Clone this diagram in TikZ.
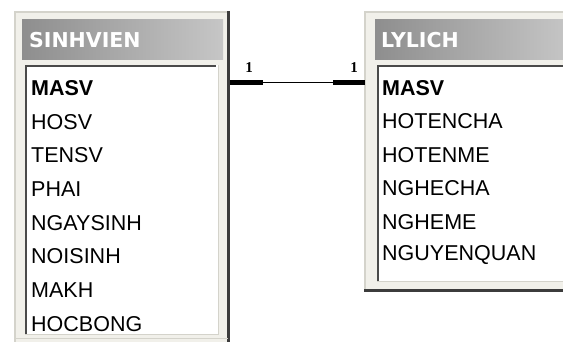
\documentclass[tikz,border=0pt]{standalone}
\usepackage{fontspec}
\setmainfont{Liberation Sans}
\newfontfamily\titlefont{DejaVu Sans}
\newfontfamily\onefont{Liberation Serif}
\definecolor{framebg}{HTML}{F1F0EA}
\definecolor{frameedge}{HTML}{D4D3CB}
\definecolor{shadowc}{HTML}{3C3C3C}
\definecolor{innerdark}{HTML}{4A4A4A}
\definecolor{tleft}{HTML}{8E8E8E}
\definecolor{tright}{HTML}{C6C6C6}
\tikzset{
  titlebar/.style={left color=tleft, right color=tright, draw=none},
  titletext/.style={anchor=west, inner sep=0pt, text=white, font=\titlefont\bfseries\fontsize{20.5}{21}\selectfont},
  listbox/.style={fill=white, draw=none},
  rowtext/.style={anchor=west, inner sep=0pt, font=\fontsize{21.5}{22}\selectfont},
  keytext/.style={rowtext, font=\bfseries\fontsize{21.5}{22}\selectfont},
  onelabel/.style={inner sep=0pt, font=\onefont\bfseries\fontsize{15}{15}\selectfont},
  thickbar/.style={line width=5pt, black},
  thinline/.style={line width=1pt, black}
}
\begin{document}
\begin{tikzpicture}[x=1pt,y=-1pt]
\useasboundingbox (0,0) rectangle (563,342);
% ---------- SINHVIEN ----------
\fill[framebg] (15,12) rectangle (228,345);
\draw[frameedge, line width=1.2pt] (15,345) -- (15,12) -- (228,12);
\draw[shadowc, line width=3pt] (228.5,11) -- (228.5,345);
\shade[titlebar] (22,20) rectangle (223,60);
\node[titletext] (t1) at (29,40) {SINHVIEN};
\fill[listbox] (25,65) rectangle (218,334);
\draw[innerdark, line width=2pt] (26,334) -- (26,66) -- (216,66);
\draw[frameedge, line width=1pt] (218,65) -- (218,334) -- (25,334);
\draw[frameedge, line width=1pt] (15,338) -- (228,338);
\node[keytext] (s1) at (31,88) {MASV};
\node[rowtext] (s2) at (31,121.7) {HOSV};
\node[rowtext] (s3) at (31,155.4) {TENSV};
\node[rowtext] (s4) at (31,189.1) {PHAI};
\node[rowtext] (s5) at (31,222.8) {NGAYSINH};
\node[rowtext] (s6) at (31,256.5) {NOISINH};
\node[rowtext] (s7) at (31,290.2) {MAKH};
\node[rowtext] (s8) at (31,323.9) {HOCBONG};
% ---------- LYLICH ----------
\fill[framebg] (365,12) rectangle (570,290);
\draw[frameedge, line width=1.2pt] (365,290) -- (365,12) -- (570,12);
\draw[shadowc, line width=3pt] (364,290.5) -- (570,290.5);
\shade[titlebar] (375,20) rectangle (570,60);
\node[titletext] (t2) at (381,40) {LYLICH};
\fill[listbox] (377,65) rectangle (570,282);
\draw[innerdark, line width=2pt] (378,282) -- (378,66) -- (570,66);
\draw[frameedge, line width=1pt] (377,282) -- (570,282);
\node[keytext] (l1) at (382,88) {MASV};
\node[rowtext] (l2) at (382,121.5) {HOTENCHA};
\node[rowtext] (l3) at (382,155) {HOTENME};
\node[rowtext] (l4) at (382,188.5) {NGHECHA};
\node[rowtext] (l5) at (382,222) {NGHEME};
\node[rowtext] (l6) at (382,255.5) {NGUYENQUAN};
% ---------- relationship ----------
\coordinate (ca) at (230,83);
\coordinate (cb) at (263,83);
\coordinate (cc) at (333,83);
\coordinate (cd) at (365,83);
\draw[thinline] (cb) -- (cc);
\draw[thickbar] (ca) -- (cb);
\draw[thickbar] (cc) -- (cd);
\node[onelabel] (o1) at (249,68) {1};
\node[onelabel] (o2) at (354,68) {1};
\end{tikzpicture}
\end{document}
